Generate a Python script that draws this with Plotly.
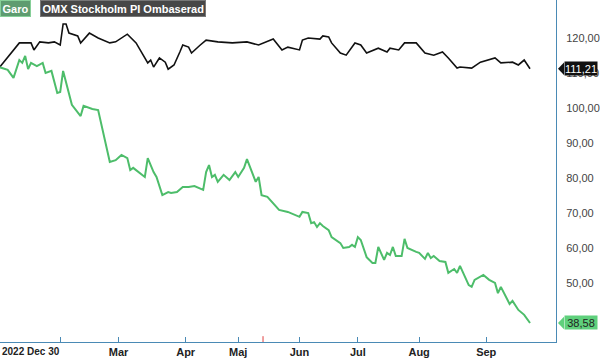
import plotly.graph_objects as go

# Trading-day index (0 = 2022-12-30) and values
omx_days = [1, 5, 8, 12, 13, 15, 18, 20, 22, 23, 24, 25, 28, 29, 32, 35, 39, 41, 45, 48,
            50, 52, 53, 54, 56, 58, 59, 61, 63, 64, 66, 67, 70, 72, 76, 81, 86, 90, 95, 98,
            100, 104, 105, 107, 111, 112, 114, 115, 118, 120, 123, 125, 127, 131, 134, 135,
            138, 140, 144, 147, 150, 153, 155, 158, 159, 163, 166, 169, 171, 173, 177, 179,
            181, 183]
omx_vals = [111.4, 115.7, 118.6, 118.6, 116.6, 118.9, 118.6, 118.9, 118.0, 124.0, 124.0,
            121.4, 120.6, 118.6, 121.4, 120.0, 118.6, 118.9, 121.1, 118.6, 115.7, 112.9,
            113.7, 111.7, 114.3, 113.1, 111.1, 112.3, 116.0, 118.0, 117.4, 115.7, 118.0,
            119.4, 118.9, 118.6, 118.9, 118.0, 119.7, 116.6, 117.4, 116.6, 119.4, 120.0,
            119.7, 120.6, 120.3, 118.6, 115.7, 115.1, 118.6, 118.0, 115.7, 117.1, 116.0,
            117.1, 116.6, 118.6, 118.6, 115.7, 115.1, 116.0, 114.3, 111.4, 111.7, 111.4,
            113.1, 113.7, 114.3, 112.9, 113.1, 112.3, 113.7, 111.21]

garo_days = [1, 4, 6, 8, 9, 10, 11, 12, 14, 16, 17, 19, 21, 22, 23, 24, 26, 29, 30, 33,
             35, 39, 41, 43, 45, 46, 47, 51, 52, 54, 55, 57, 59, 60, 62, 64, 66, 68, 71,
             72, 73, 74, 75, 76, 78, 80, 82, 83, 85, 86, 88, 89, 90, 91, 93, 97, 100, 104,
             105, 107, 108, 109, 110, 111, 112, 114, 115, 117, 118, 119, 121, 122, 123,
             124, 125, 127, 129, 130, 131, 133, 134, 135, 136, 137, 139, 140, 141, 144,
             145, 147, 148, 149, 150, 152, 154, 155, 157, 158, 159, 162, 163, 164, 167,
             169, 171, 172, 173, 176, 177, 179, 181, 183]
garo_vals = [111.7, 110.9, 108.6, 113.7, 112.9, 114.9, 111.1, 112.9, 112.0, 112.9, 110.0,
             110.6, 104.3, 104.6, 110.6, 107.1, 100.9, 97.7, 100.6, 99.7, 99.4, 84.6,
             85.1, 86.6, 85.7, 82.3, 82.9, 80.3, 85.7, 81.7, 80.3, 75.1, 76.0, 75.7, 76.0,
             77.4, 77.4, 77.7, 76.6, 81.7, 83.7, 80.3, 80.9, 78.9, 80.9, 79.4, 81.7, 80.3,
             82.9, 85.4, 81.4, 78.9, 80.3, 75.1, 74.6, 70.9, 70.3, 68.9, 70.3, 70.0, 67.1,
             67.4, 66.0, 67.1, 66.3, 65.1, 63.1, 62.0, 61.4, 60.0, 60.3, 60.9, 60.3, 63.1,
             62.3, 57.4, 55.7, 55.7, 60.3, 56.6, 58.6, 58.0, 60.3, 57.7, 57.7, 62.6, 60.0,
             58.9, 58.6, 56.9, 58.6, 57.1, 57.7, 56.3, 56.0, 52.9, 54.0, 52.9, 54.9, 49.4,
             48.9, 50.9, 52.3, 50.9, 50.0, 47.1, 48.9, 44.0, 44.9, 42.3, 40.9, 38.58]

month_ticks = [22, 42, 65, 83, 104, 124, 145, 168]
month_labels = ["", "Mar", "Apr", "Maj", "Jun", "Jul", "Aug", "Sep"]
start_label = "2022 Dec 30"
y_ticks = [50, 60, 70, 80, 90, 100, 110, 120]
y_labels = ["50,00", "60,00", "70,00", "80,00", "90,00", "100,00", "110,00", "120,00"]
series_names = ["Garo", "OMX Stockholm PI Ombaserad"]
marker_day = 91.5

GREEN = "#4dbd6a"
BLACK = "#111111"
AXIS = "#4a8ab5"
FONT = "Liberation Sans, Arial, sans-serif"

fig = go.Figure()
fig.add_trace(go.Scatter(x=omx_days, y=omx_vals, mode="lines",
                         line=dict(color=BLACK, width=1.6), name=series_names[1]))
fig.add_trace(go.Scatter(x=garo_days, y=garo_vals, mode="lines",
                         line=dict(color=GREEN, width=2), name=series_names[0]))

XR = [1.37, 191.9]
YR = [33.14, 130.86]

fig.update_layout(
    width=600, height=359,
    margin=dict(l=0, r=42, t=0, b=17),
    paper_bgcolor="white", plot_bgcolor="white",
    showlegend=False,
    font=dict(family=FONT, size=11, color="#333"),
    xaxis=dict(range=XR, showgrid=False, zeroline=False,
               showline=True, linecolor=AXIS, linewidth=1,
               ticks="inside", ticklen=5, tickcolor=AXIS,
               tickvals=month_ticks + [XR[1]],
               ticktext=["<b>%s</b>" % t if t else "" for t in month_labels] + [""],
               tickfont=dict(size=11, color="#222"), fixedrange=True),
    yaxis=dict(range=YR, side="right", showgrid=False, zeroline=False,
               showline=True, linecolor=AXIS, linewidth=1, mirror=False,
               ticks="", tickvals=y_ticks, ticktext=y_labels,
               ticklabelstandoff=7,
               tickfont=dict(size=11, color="#444")),
)

# start date label at left edge
fig.add_annotation(x=0, xref="paper", y=0, yref="paper", yshift=-9,
                   xanchor="left", yanchor="middle", showarrow=False,
                   text="<b>%s</b>" % start_label, font=dict(size=10, color="#222"))

# red marker tick on the x axis
fig.add_shape(type="line", xref="x", yref="paper", x0=marker_day, x1=marker_day,
              y0=0, y1=0.017, line=dict(color="#e04040", width=1))

# legend boxes
fig.add_annotation(x=0, xref="paper", y=1, yref="paper", xanchor="left", yanchor="top",
                   showarrow=False, text="<b>%s</b>" % series_names[0],
                   font=dict(size=11, color="white"), bgcolor="#5e9c70",
                   bordercolor="#86cf98", borderwidth=1, borderpad=1.5)
fig.add_annotation(x=40 / 558, xref="paper", y=1, yref="paper", xanchor="left", yanchor="top",
                   showarrow=False, text="<b>%s</b>" % series_names[1],
                   font=dict(size=11, color="white"), bgcolor="#474747",
                   bordercolor="#777", borderwidth=1, borderpad=1.5)

# end value tags
def tag(v, text, bg, fg):
    h = 6.3 * (YR[1] - YR[0]) / 342
    fig.add_shape(type="path", xref="paper", yref="y",
                  path="M %f %f L %f %f L %f %f Z" % (560 / 558, v, 566 / 558, v + h,
                                                      566 / 558, v - h),
                  fillcolor=bg, line=dict(width=0))
    fig.add_annotation(x=566 / 558, xref="paper", y=v, yref="y", xanchor="left",
                       yanchor="middle", showarrow=False, text=text,
                       font=dict(size=11, color=fg), bgcolor=bg, borderpad=0,
                       width=32, height=13)

tag(omx_vals[-1], "111,21", "#111111", "white")
tag(garo_vals[-1], "38,58", "#5fd07c", "#222")

fig.write_html("out.html")
